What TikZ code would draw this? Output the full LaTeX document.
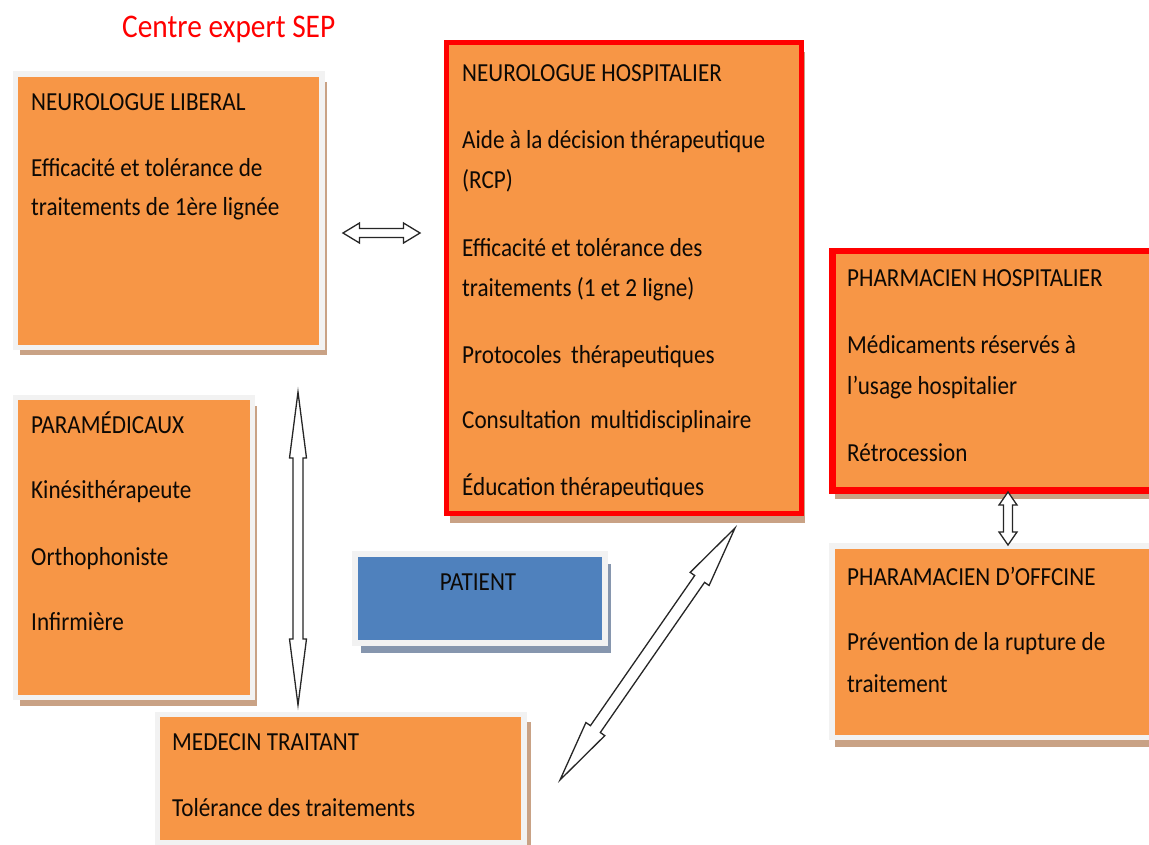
\documentclass[tikz,border=0pt]{standalone}
\usepackage{fontspec}
\setmainfont{Carlito}[FakeStretch=0.89]
\usetikzlibrary{calc,shadows}

\definecolor{boxorange}{HTML}{F79646}
\definecolor{framegray}{HTML}{F2F2F2}
\definecolor{shadetan}{HTML}{C9A285}
\definecolor{boxblue}{HTML}{4F81BD}
\definecolor{shadeblue}{HTML}{8696AE}
\definecolor{borderred}{HTML}{FF0000}
\definecolor{inkdark}{HTML}{0D0905}

% hollow double-headed block arrow between two named points
% #1,#2 tips, #3 head length, #4 head half-width, #5 shaft half-width
\newcommand\dblarrow[5]{%
  \path ($(#1)!#3!(#2)$) coordinate (hA) ($(#2)!#3!(#1)$) coordinate (hB);
  \draw[hollowarrow] (#1)
    -- ($(hA)!#4!90:(#1)$) -- ($(hA)!#5!90:(#1)$)
    -- ($(hB)!#5!-90:(#2)$) -- ($(hB)!#4!-90:(#2)$)
    -- (#2)
    -- ($(hB)!#4!90:(#2)$) -- ($(hB)!#5!90:(#2)$)
    -- ($(hA)!#5!-90:(#1)$) -- ($(hA)!#4!-90:(#1)$)
    -- cycle;}

\begin{document}
\begin{tikzpicture}[x=1pt,y=-1pt,
  panel/.style={draw=framegray, line width=5.5pt, fill=boxorange,
    inner sep=0pt, anchor=north west},
  keypanel/.style={draw=borderred, fill=boxorange, inner sep=0pt, anchor=north west},
  tanshadow/.style 2 args={drop shadow={shadow xshift=#1pt, shadow yshift=-#2pt,
    fill=shadetan, opacity=1}},
  txt/.style={anchor=base west, inner sep=0pt, text=inkdark,
    font=\fontsize{26}{31}\selectfont},
  hollowarrow/.style={fill=white, draw=black!85, line width=1.3pt, line join=miter}]

\useasboundingbox (0,0) rectangle (1149,844);
\fill[white] (0,0) rectangle (1149,844);
\clip (0,0) rectangle (1149,844);

% title
\node[anchor=base west, inner sep=0pt, text=borderred,
  font=\fontsize{33}{40}\selectfont] (title) at (122,37) {Centre expert SEP};

% boxes
\node[panel, tanshadow={5}{8}, minimum width=306.5pt, minimum height=273.5pt]
  (lib) at (12.5,71) {};
\node[panel, tanshadow={4.5}{8.5}, minimum width=237pt, minimum height=300pt]
  (para) at (12.5,394.5) {};
\node[panel, tanshadow={7}{8}, minimum width=366.5pt, minimum height=128.5pt]
  (med) at (154.5,711.5) {};
\node[panel, fill=boxblue, line width=6pt,
  drop shadow={shadow xshift=6pt, shadow yshift=-10pt, fill=shadeblue, opacity=1},
  minimum width=250pt, minimum height=89pt] (pat) at (352,551) {};
\node[panel, tanshadow={3}{9.5}, minimum width=341pt, minimum height=191.5pt]
  (off) at (829,543) {};
\node[keypanel, line width=5pt, tanshadow={3}{9.5}, minimum width=355pt,
  minimum height=471pt] (hosp) at (444,39.5) {};
\node[keypanel, line width=6.5pt, tanshadow={3}{9}, minimum width=341pt,
  minimum height=239.5pt] (phh) at (829,247.5) {};

% NEUROLOGUE LIBERAL
\node[txt] (lib1) at (31,110) {NEUROLOGUE LIBERAL};
\node[txt] (lib2) at (31,176.7) {Efficacité et tolérance de};
\node[txt] (lib3) at (31,215) {traitements de 1ère lignée};

% NEUROLOGUE HOSPITALIER
\node[txt] (hosp1) at (462,81.7) {NEUROLOGUE HOSPITALIER};
\node[txt] (hosp2) at (462,148.3) {Aide à la décision thérapeutique};
\node[txt] (hosp3) at (462,188.3) {(RCP)};
\node[txt] (hosp4) at (462,256.7) {Efficacité et tolérance des};
\node[txt] (hosp5) at (462,296.7) {traitements (1 et 2 ligne)};
\node[txt] (hosp6) at (462,363.3) {Protocoles\, thérapeutiques};
\node[txt] (hosp7) at (462,428.3) {Consultation\, multidisciplinaire};
\begin{scope}
  \clip (447,42) rectangle (796,496);
  \node[txt] (hosp8) at (462,495) {Éducation thérapeutiques};
\end{scope}

% PARAMÉDICAUX
\node[txt] (para1) at (31,433) {PARAMÉDICAUX};
\node[txt] (para2) at (31,498) {Kinésithérapeute};
\node[txt] (para3) at (31,565) {Orthophoniste};
\node[txt] (para4) at (31,630) {Infirmière};

% PATIENT
\node[anchor=base, inner sep=0pt, text=inkdark,
  font=\fontsize{26}{31}\selectfont] (pat1) at (478,590) {PATIENT};

% PHARMACIEN HOSPITALIER
\node[txt] (phh1) at (847,286.7) {PHARMACIEN HOSPITALIER};
\node[txt] (phh2) at (847,353.3) {Médicaments réservés à};
\node[txt] (phh3) at (847,394) {l’usage hospitalier};
\node[txt] (phh4) at (847,461.7) {Rétrocession};

% PHARAMACIEN D'OFFCINE
\node[txt] (off1) at (847,585) {PHARAMACIEN D’OFFCINE};
\node[txt] (off2) at (847,650.7) {Prévention de la rupture de};
\node[txt] (off3) at (847,692.3) {traitement};

% MEDECIN TRAITANT
\node[txt] (med1) at (172,750.7) {MEDECIN TRAITANT};
\node[txt] (med2) at (172,816) {Tolérance des traitements};

% connectors
\coordinate (libR) at (343,233);
\coordinate (hospL) at (420,233);
\coordinate (libB) at (298,392);
\coordinate (medT) at (298,705);
\coordinate (hospB) at (735,528);
\coordinate (medR) at (560,780);
\coordinate (phhB) at (1008,492);
\coordinate (offT) at (1008,545);

\dblarrow{libR}{hospL}{16.5pt}{10pt}{4.5pt}
\dblarrow{libB}{medT}{66pt}{8.5pt}{5pt}
\dblarrow{hospB}{medR}{62pt}{11.5pt}{6pt}
\dblarrow{phhB}{offT}{13pt}{9pt}{4.5pt}

\end{tikzpicture}
\end{document}
